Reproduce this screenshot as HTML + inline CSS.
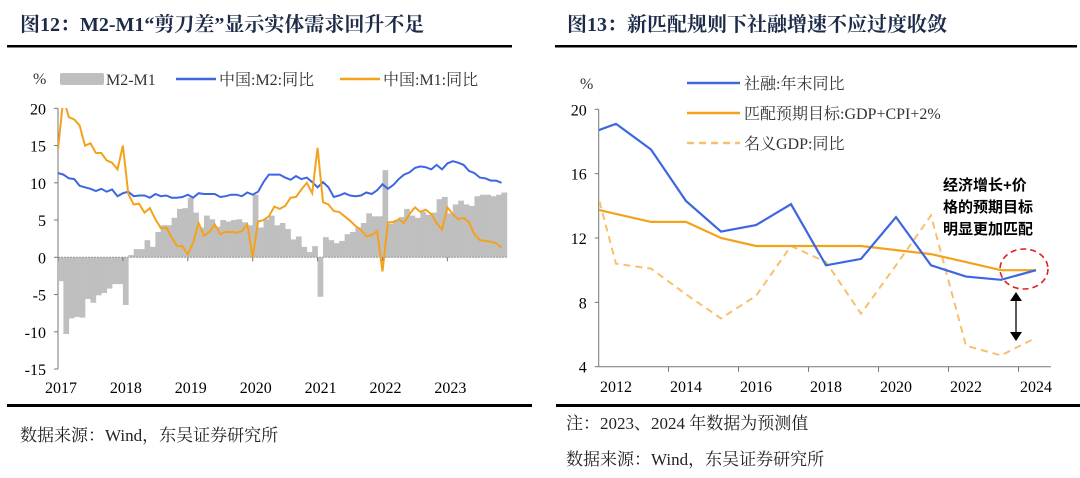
<!DOCTYPE html>
<html><head><meta charset="utf-8">
<style>
body{margin:0;background:#fff;width:1080px;height:478px;overflow:hidden;}
svg{display:block}
.ttl{font-family:"Liberation Serif","Noto Serif CJK SC",serif;font-weight:bold;font-size:20px;fill:#1d2b48;}
.ax{font-family:"Liberation Serif","Noto Serif CJK SC",serif;font-size:16px;fill:#000;}
.lg{font-family:"Liberation Serif","Noto Serif CJK SC",serif;font-size:16px;fill:#333;}
.note{font-family:"Liberation Serif","Noto Serif CJK SC",serif;font-size:17px;fill:#222;}
</style></head><body>
<svg id="s" width="1080" height="478" viewBox="0 0 1080 478">
<text class="ttl" x="20" y="31">图12：M2-M1“剪刀差”显示实体需求回升不足</text>
<rect x="7" y="45" width="505" height="2.5" fill="#000"/>
<text class="ttl" x="567" y="31">图13：新匹配规则下社融增速不应过度收敛</text>
<rect x="555" y="45" width="522" height="2.5" fill="#000"/>
<rect x="7" y="404" width="525" height="3" fill="#000"/>
<rect x="556" y="404" width="524" height="3" fill="#000"/>
<text class="note" x="20" y="441">数据来源：Wind，东吴证券研究所</text>
<text class="note" x="566" y="429">注：2023、2024 年数据为预测值</text>
<text class="note" x="566" y="465">数据来源：Wind，东吴证券研究所</text>
<g id="left"></g>
<g id="right"></g>
<defs>
<clipPath id="cl"><rect x="58" y="108" width="452" height="262"/></clipPath>
<clipPath id="cr"><rect x="599" y="100" width="455" height="267"/></clipPath>
</defs>
</svg>
<script>
// ---- Left chart data (monthly, Jan 2017 - Nov 2023) ----
const leftYears = ['2017','2018','2019','2020','2021','2022','2023'];
const leftYTicks = [20,15,10,5,0,-5,-10,-15];
const m2 = [11.3,11.1,10.6,10.5,9.6,9.4,9.2,8.9,9.2,8.8,9.1,8.2,
8.6,8.8,8.2,8.3,8.3,8.0,8.5,8.2,8.3,8.0,8.0,8.1,
8.4,8.0,8.6,8.5,8.5,8.5,8.1,8.2,8.4,8.4,8.2,8.7,
8.4,8.8,10.1,11.1,11.1,11.1,10.7,10.4,10.9,10.5,10.7,10.1,
9.4,10.1,9.4,8.1,8.3,8.6,8.3,8.2,8.3,8.7,8.5,9.0,
9.8,9.2,9.7,10.5,11.1,11.4,12.0,12.2,12.1,11.8,12.4,11.8,
12.6,12.9,12.7,12.4,11.6,11.3,10.7,10.6,10.3,10.3,10.0];
const m1 = [14.5,21.4,18.8,18.5,17.7,15.0,15.3,14.0,14.0,13.0,12.7,11.8,
15.0,8.5,7.1,7.2,6.0,6.6,5.1,3.9,4.0,2.7,1.5,1.5,
0.4,2.0,4.6,2.9,3.4,4.4,3.1,3.4,3.4,3.3,3.5,4.4,
0.0,4.8,5.0,5.5,6.8,6.5,6.9,8.0,8.1,9.1,10.0,8.6,
14.7,7.4,7.1,6.2,6.1,5.5,4.9,4.2,3.7,2.8,3.0,3.5,
-1.9,4.7,4.7,5.1,4.6,5.8,6.7,6.1,6.4,5.8,4.6,3.7,
6.7,5.8,5.1,5.3,4.7,3.1,2.3,2.2,2.1,1.9,1.3];
// ---- Right chart data (annual, 2011 - 2024; 2011 sits half outside the plot) ----
const rightYears = [2011,2012,2013,2014,2015,2016,2017,2018,2019,2020,2021,2022,2023,2024];
const rightXLabels = ['2012','2014','2016','2018','2020','2022','2024'];
const rightYTicks = [20,16,12,8,4];
const tsf = [18.3,19.1,17.5,14.3,12.4,12.8,14.1,10.3,10.7,13.3,10.3,9.6,9.4,10.0];
const target = [14.0,13.5,13.0,13.0,12.0,11.5,11.5,11.5,11.5,11.25,11.0,10.5,10.0,10.0];
const nominalGdp = [18.6,10.4,10.1,8.5,7.0,8.4,11.5,10.5,7.3,10.3,13.4,5.3,4.7,5.8];

const NS='http://www.w3.org/2000/svg';
function mk(tag,attrs,parent){const e=document.createElementNS(NS,tag);for(const k in attrs)e.setAttribute(k,attrs[k]);parent.appendChild(e);return e;}

// ---------- LEFT ----------
const L=document.getElementById('left');
const lx0=58, mw=64.9/12;
const lx=i=>lx0+i*mw;
const ly=v=>257.3-v*7.45;
let e;
e=mk('line',{x1:lx0,y1:ly(20),x2:lx0,y2:ly(-15),stroke:'#777','stroke-width':1},L);


leftYTicks.forEach(v=>{
  e=mk('line',{x1:lx0-4,y1:ly(v),x2:lx0,y2:ly(v),stroke:'#777'},L);
  
  
  e=mk('text',{x:lx0-12,y:ly(v)+6,'text-anchor':'end',class:'ax'},L);e.textContent=v;
  
  
});
const bars=mk('g',{'clip-path':'url(#cl)'},L);


m2.forEach((v,i)=>{
  const g=v-m1[i];
  const y1=ly(Math.max(g,0)), y2=ly(Math.min(g,0));
  e=mk('rect',{x:lx(i),y:y1,width:mw+0.3,height:Math.max(y2-y1,0.5),fill:'#bfbfbf'},bars);
  
  
});
e=mk('line',{x1:lx0,y1:ly(0),x2:lx(m2.length),y2:ly(0),stroke:'#999','stroke-dasharray':'2,1'},L);


leftYears.forEach((y,k)=>{
  const x=lx(k*12);
  e=mk('line',{x1:x,y1:ly(0),x2:x,y2:ly(0)+4,stroke:'#777'},L);
  
  
  e=mk('text',{x:x+3,y:393,'text-anchor':'middle',class:'ax'},L);e.textContent=y;
  
  
});
const lpath=arr=>arr.map((v,i)=>(i?'L':'M')+lx(i).toFixed(1)+','+ly(v).toFixed(1)).join('');
e=mk('path',{d:lpath(m2),fill:'none',stroke:'#3e66e0','stroke-width':2,'clip-path':'url(#cl)'},L);


e=mk('path',{d:lpath(m1),fill:'none',stroke:'#f5a21b','stroke-width':2,'clip-path':'url(#cl)'},L);


// legend
e=mk('text',{x:33,y:84,class:'lg'},L);e.textContent='%';


e=mk('rect',{x:60,y:73,width:44,height:12,fill:'#bfbfbf',rx:2},L);


e=mk('text',{x:106,y:85,class:'lg'},L);e.textContent='M2-M1';


e=mk('line',{x1:176,y1:79,x2:216,y2:79,stroke:'#3e66e0','stroke-width':2.5},L);


e=mk('text',{x:219,y:85,class:'lg'},L);e.textContent='中国:M2:同比';


e=mk('line',{x1:340,y1:79,x2:380,y2:79,stroke:'#f5a21b','stroke-width':2.5},L);


e=mk('text',{x:383,y:85,class:'lg'},L);e.textContent='中国:M1:同比';



// ---------- RIGHT ----------
const R=document.getElementById('right');
const cw=35, rxa=598.7;
const rx=yr=>616+(yr-2012)*cw;
const ry=v=>366.7-(v-4)*(257.4/16);
e=mk('line',{x1:rxa,y1:ry(20),x2:rxa,y2:ry(4),stroke:'#777'},R);


e=mk('line',{x1:rxa,y1:ry(4),x2:1051,y2:ry(4),stroke:'#777'},R);


rightYTicks.forEach(v=>{
  e=mk('line',{x1:rxa-4,y1:ry(v),x2:rxa,y2:ry(v),stroke:'#777'},R);
  
  
  e=mk('text',{x:rxa-12,y:ry(v)+6,'text-anchor':'end',class:'ax'},R);e.textContent=v;
  
  
});
for(let k=1;k<=6;k++){
  const x=rx(2011+2*k)+cw/2;
  e=mk('line',{x1:x,y1:ry(4),x2:x,y2:ry(4)+5,stroke:'#777'},R);
  
  
}
rightXLabels.forEach(l=>{
  e=mk('text',{x:rx(+l),y:392,'text-anchor':'middle',class:'ax'},R);e.textContent=l;
  
  
});
const rpath=arr=>arr.map((v,i)=>(i?'L':'M')+rx(rightYears[i]).toFixed(1)+','+ry(v).toFixed(1)).join('');
e=mk('path',{d:rpath(nominalGdp),fill:'none',stroke:'#f8c06e','stroke-width':2,'stroke-dasharray':'7,5','clip-path':'url(#cr)'},R);


e=mk('path',{d:rpath(target),fill:'none',stroke:'#f5a21b','stroke-width':2.2,'clip-path':'url(#cr)'},R);


e=mk('path',{d:rpath(tsf),fill:'none',stroke:'#3e66e0','stroke-width':2.2,'clip-path':'url(#cr)'},R);


// legend
e=mk('text',{x:580,y:89,class:'lg'},R);e.textContent='%';


const leg=[['社融:年末同比','#3e66e0',83,null],['匹配预期目标:GDP+CPI+2%','#f5a21b',113,null],['名义GDP:同比','#f8c06e',143,'7,5']];
leg.forEach(([t,c,y,d])=>{
  const a={x1:687,y1:y,x2:740,y2:y,stroke:c,'stroke-width':2.5};if(d)a['stroke-dasharray']=d;
  e=mk('line',a,R);
  
  
  e=mk('text',{x:744,y:y+6,class:'lg'},R);e.textContent=t;
  
  
});
// annotation
['经济增长+价','格的预期目标','明显更加匹配'].forEach((t,i)=>{
  e=mk('text',{x:943,y:190+i*22,style:'font-family:"Liberation Sans","Noto Sans CJK SC",sans-serif;font-weight:bold;font-size:15px;fill:#000'},R);e.textContent=t;
  
  
});
e=mk('ellipse',{cx:1024,cy:269,rx:24,ry:20,fill:'none',stroke:'#e02020','stroke-width':1.6,'stroke-dasharray':'6,4'},R);


e=mk('line',{x1:1016,y1:298,x2:1016,y2:334,stroke:'#000','stroke-width':1.3},R);


e=mk('path',{d:'M1016,292 L1010,301 L1022,301 Z M1016,341 L1010,332 L1022,332 Z',fill:'#000'},R);


</script>
</body></html>
